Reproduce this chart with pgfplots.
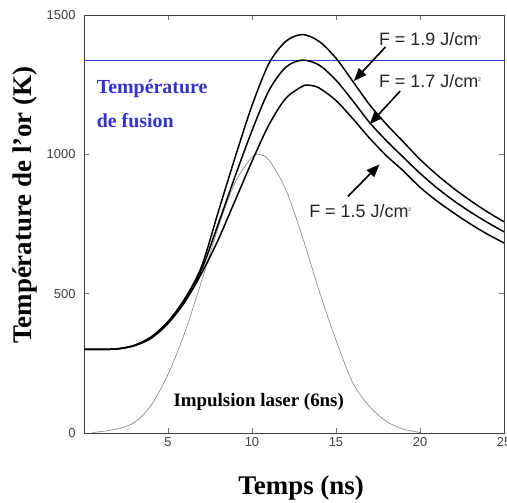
\documentclass[border=0pt]{standalone}
\usepackage{fontspec}
\setmainfont{Liberation Serif}
\newfontfamily\arial{Liberation Sans}
\usepackage{pgfplots}
\pgfplotsset{compat=1.18}
\usetikzlibrary{arrows.meta}
\definecolor{fusblue}{RGB}{50,50,205}
\begin{document}
\begin{tikzpicture}
\path[use as bounding box] (0,0) rectangle (507bp,503bp);
\begin{axis}[
  at={(84bp,70bp)}, anchor=south west,
  scale only axis, width=420bp, height=418bp,
  xmin=0, xmax=25, ymin=0, ymax=1500,
  xtick={5,10,15,20,25}, ytick={0,500,1000,1500},
  tick align=inside, major tick length=5bp,
  tick style={black!55, line width=0.6pt},
  axis line style={black!75, line width=0.9pt},
  /pgf/number format/assume math mode=true,
  /pgf/number format/set thousands separator={},
  ticklabel style={font=\arial\fontsize{13}{13}\selectfont, text=black!75},
  yticklabel style={xshift=-5bp},
  xticklabel style={yshift=-1bp},
  xlabel={\bfseries Temps (ns)},
  ylabel={\bfseries Température de l’or (K)},
  xlabel style={font=\fontsize{27}{27}\selectfont, at={(axis description cs:0.517,-0.131)}, anchor=center},
  ylabel style={font=\fontsize{27}{27}\selectfont, at={(axis description cs:-0.14,0.545)}, anchor=center},
  clip=true,
]
% fusion line
\addplot[fusblue, line width=1.6pt] coordinates {(0,1337) (25,1337)};
% laser pulse
\addplot[black!45, line width=0.7pt, smooth] coordinates {
(0.5,2) (1,5) (2,15) (3,38) (4,100) (5,210) (6,360) (7,545) (8,740) (9,900) (10,990) (10.4,1000)
(11,980) (12,875) (13,704) (14,510) (15,333) (16,180) (17,95) (18,42) (19,14) (20,2)};
% F = 1.9
\addplot[black, line width=1.5pt, smooth] coordinates {
(0,300) (1,300) (2,302) (3,315) (4,345) (5,400) (6,482) (7,598) (8,795) (9,990) (10,1175)
(11,1325) (12,1405) (13,1430) (14,1405) (15,1345) (16,1262) (17,1178) (18,1108) (19,1045)
(20,982) (21,927) (22,878) (23,834) (24,794) (25,758)};
% F = 1.7
\addplot[black, line width=1.5pt, smooth] coordinates {
(0,300) (1,300) (2,302) (3,314) (4,343) (5,397) (6,476) (7,586) (8,752) (9,922) (10,1085)
(11,1228) (12,1312) (13,1338) (14,1320) (15,1266) (16,1192) (17,1114) (18,1049) (19,990)
(20,932) (21,880) (22,834) (23,793) (24,756) (25,722)};
% F = 1.5
\addplot[black, line width=1.5pt, smooth] coordinates {
(0,300) (1,300) (2,302) (3,313) (4,340) (5,393) (6,470) (7,573) (8,695) (9,835) (10,975)
(11,1105) (12,1200) (13,1244) (13.4,1248) (14,1238) (15,1193) (16,1128) (17,1058) (18,995)
(19,941) (20,882) (21,833) (22,790) (23,750) (24,714) (25,682)};
% annotations
\node[anchor=west, text=fusblue, font=\bfseries\fontsize{20}{20}\selectfont, inner sep=0pt] at (axis cs:0.75,1237) {Température};
\node[anchor=west, text=fusblue, font=\bfseries\fontsize{20}{20}\selectfont, inner sep=0pt] at (axis cs:0.75,1122) {de fusion};
\node[font=\bfseries\fontsize{19}{19}\selectfont, inner sep=0pt] at (axis cs:10.4,112) {Impulsion laser (6ns)};
\node[anchor=west, font=\arial\fontsize{18}{18}\selectfont, text=black!85, inner sep=0pt] at (axis cs:17.55,1414) {F = 1.9 J/cm\textsuperscript{\tiny 2}};
\node[anchor=west, font=\arial\fontsize{18}{18}\selectfont, text=black!85, inner sep=0pt] at (axis cs:17.55,1263) {F = 1.7 J/cm\textsuperscript{\tiny 2}};
\node[anchor=west, font=\arial\fontsize{18}{18}\selectfont, text=black!85, inner sep=0pt] at (axis cs:13.4,795) {F = 1.5 J/cm\textsuperscript{\tiny 2}};
\draw[-{Triangle[length=13bp,width=10bp]}, line width=1.6bp] (axis cs:17.94,1385) -- (axis cs:16.06,1263);
\draw[-{Triangle[length=13bp,width=10bp]}, line width=1.6bp] (axis cs:18.82,1227) -- (axis cs:17.0,1108);
\draw[-{Triangle[length=13bp,width=10bp]}, line width=1.6bp] (axis cs:15.71,849) -- (axis cs:17.59,964);
\end{axis}
\end{tikzpicture}
\end{document}
